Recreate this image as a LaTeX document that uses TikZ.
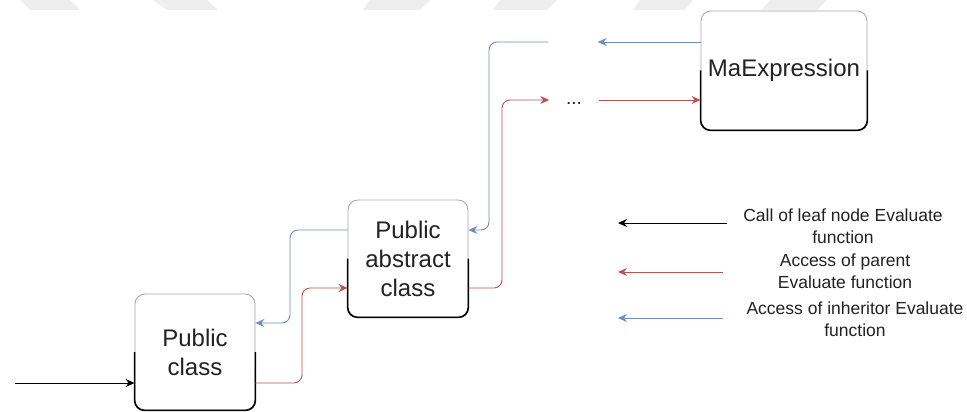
\documentclass[tikz,border=0pt]{standalone}
\usepackage{fontspec}
\setmainfont{Liberation Sans}
\usetikzlibrary{arrows.meta}
\definecolor{bluel}{HTML}{6C8EBF}
\definecolor{redl}{HTML}{B85450}
\definecolor{txt}{HTML}{222222}
\definecolor{band}{HTML}{EEEEEE}
\tikzset{
  classbox/.style={draw=black!35, line width=0.8pt, fill=white, rounded corners=10pt,
    align=center, inner sep=0pt, text=txt, font=\fontsize{24}{29}\selectfont},
  lowerrim/.style={draw=black, line width=1.6pt, rounded corners=10pt},
  tip/.style={-{Stealth[length=9pt,width=8pt,inset=3pt]}},
  wire/.style={line width=0.9pt, rounded corners=8pt},
  bluewire/.style={wire, tip, draw=bluel},
  redwire/.style={wire, tip, draw=redl},
  blackwire/.style={wire, tip, draw=black},
  legendtext/.style={align=center, text=txt, inner sep=0pt, font=\fontsize{17.5}{22}\selectfont},
  slot/.style={inner sep=0pt, minimum width=49pt, minimum height=14pt, text=txt,
    font=\fontsize{19}{22}\selectfont}
}
\begin{document}
\begin{tikzpicture}[x=1pt,y=-1pt]
\useasboundingbox (0,0) rectangle (967,412);

% light band along the top edge
\foreach \a/\b/\c/\d in {20/70/80/30, 153/207/218/167, 370/430/420/363,
                          500/557/547/493, 640/693/685/633, 770/827/817/762}
  \fill[band] (\a,0) -- (\b,0) -- (\c,10) -- (\d,10) -- cycle;

% classes
\node[classbox, minimum width=120pt, minimum height=116pt] (pc) at (195,352) {Public\\class};
\node[classbox, minimum width=120pt, minimum height=117pt] (pac) at (408,258.5) {Public\\abstract\\class};
\node[classbox, minimum width=166pt, minimum height=119pt] (ma) at (784,70.5) {MaExpression};
\foreach \n in {pc,pac,ma}
  \draw[lowerrim] (\n.west) |- (\n.south) -| (\n.east);

% intermediate levels
\node[slot, anchor=base] (dots) at (574,104) {...};
\node[slot] (gap) at (573,42) {};

% entry call
\coordinate (entry) at (15,383);
\draw[blackwire] (entry) -- (entry -| pc.west);

% parent access chain
\draw[redwire] (pc.east |- 0,383) -| (302,288) -- (pac.west |- 0,288);
\draw[redwire] (pac.east |- 0,288) -| (502,100) -- (dots.west |- 0,100);
\draw[redwire] (dots.east |- 0,100) -- (ma.west |- 0,100);

% inheritor access chain
\draw[bluewire] (ma.west |- 0,42) -- (gap.east);
\draw[bluewire] (gap.west) -| (489,230) -- (pac.east |- 0,230);
\draw[bluewire] (pac.west |- 0,230) -| (290,323) -- (pc.east |- 0,323);

% legend
\coordinate (k1) at (727,223); \coordinate (k1e) at (618,223);
\coordinate (k2) at (723,272); \coordinate (k2e) at (618,272);
\coordinate (k3) at (723,318); \coordinate (k3e) at (618,318);
\draw[blackwire] (k1) -- (k1e);
\draw[redwire] (k2) -- (k2e);
\draw[bluewire] (k3) -- (k3e);
\node[legendtext] (l1) at (843,226) {Call of leaf node Evaluate\\function};
\node[legendtext] (l2) at (845,271) {Access of parent\\Evaluate function};
\node[legendtext] (l3) at (855,319) {Access of inheritor Evaluate\\function};
\end{tikzpicture}
\end{document}
